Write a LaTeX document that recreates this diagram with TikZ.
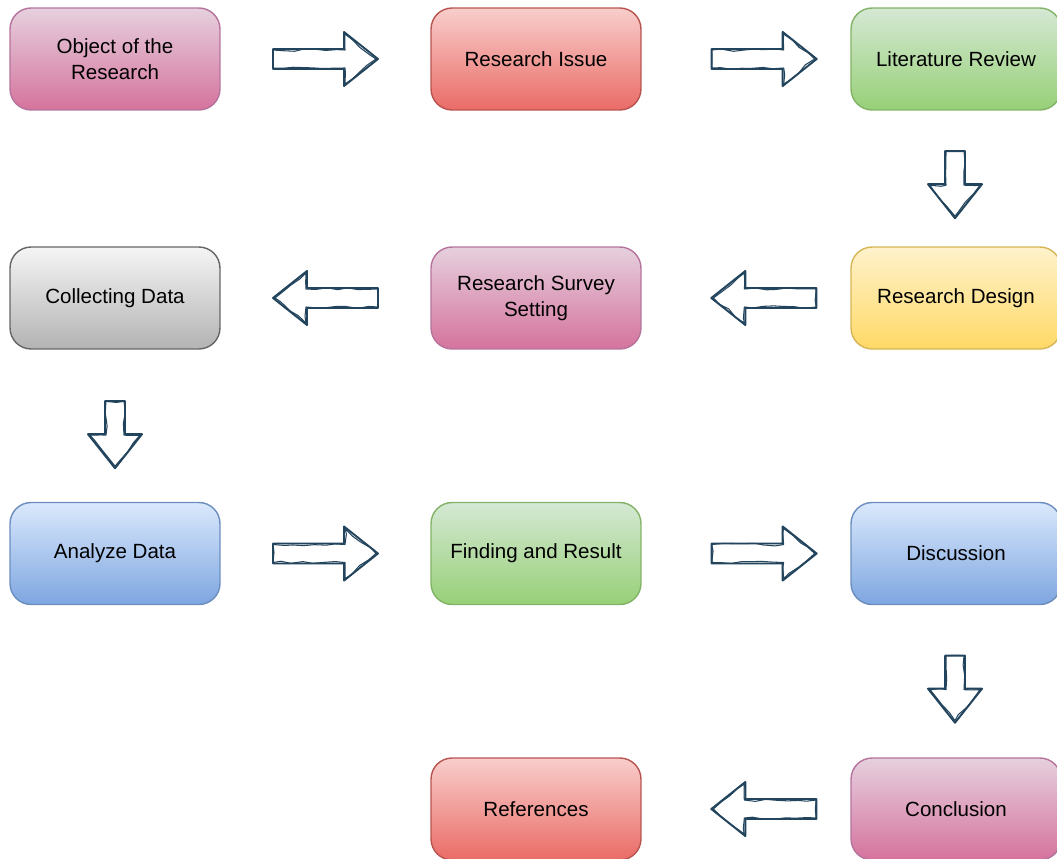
\documentclass[tikz,border=0pt]{standalone}
\usepackage{fontspec}
\setmainfont{Liberation Sans}
\usetikzlibrary{calc,decorations.pathmorphing}
\definecolor{pinkT}{HTML}{E6D0DE}
\definecolor{pinkB}{HTML}{D5739D}
\definecolor{pinkL}{HTML}{B5739D}
\definecolor{redT}{HTML}{F8CECC}
\definecolor{redB}{HTML}{EA6B66}
\definecolor{redL}{HTML}{B85450}
\definecolor{greenT}{HTML}{D5E8D4}
\definecolor{greenB}{HTML}{97D077}
\definecolor{greenL}{HTML}{82B366}
\definecolor{yellowT}{HTML}{FFF2CC}
\definecolor{yellowB}{HTML}{FFD966}
\definecolor{yellowL}{HTML}{D6B656}
\definecolor{grayT}{HTML}{F5F5F5}
\definecolor{grayB}{HTML}{B3B3B3}
\definecolor{grayL}{HTML}{666666}
\definecolor{blueT}{HTML}{DAE8FC}
\definecolor{blueB}{HTML}{7EA6E0}
\definecolor{blueL}{HTML}{6C8EBF}
\definecolor{slate}{HTML}{23445D}
\tikzset{
  stage/.style={draw=#1L,top color=#1T,bottom color=#1B,rounded corners=12,
    line width=0.8pt,minimum width=4.2cm,minimum height=2.04cm,align=center,
    font=\fontsize{11.7}{14.7}\selectfont},
  stage/.default=pink,
  % hand-drawn block arrow, pointing right; #1 = length
  pics/fatarrow/.style={code={
    \pgfmathsetmacro\hl{#1/2}
    \pgfmathsetmacro\hb{#1/2-34}
    \filldraw[fill=white,draw=slate,line width=1.1pt,line join=round]
      (-\hl,-10) -- (\hb,-10) -- (\hb,-27) -- (\hl,0) -- (\hb,27) -- (\hb,10) -- (-\hl,10) -- cycle;
    \draw[slate,line width=0.6pt,line join=round,
      decorate,decoration={random steps,segment length=6,amplitude=0.8}]
      (-\hl,-9) -- (\hb+1,-9) -- (\hb+1,-25) -- (\hl-2,0) -- (\hb+1,25) -- (\hb+1,9) -- (-\hl,9) -- cycle;
  }},
  pics/fatarrow/.default=105,
}
\begin{document}
\begin{tikzpicture}[x=0.02cm,y=-0.02cm]
  \useasboundingbox (0,0) rectangle (1057,858);
  % boxes
  \node[stage=pink] (obj) at (115,59) {Object of the\\Research};
  \node[stage=red] (issue) at (536,59) {Research Issue};
  \node[stage=green] (lit) at (956,59) {Literature Review};
  \node[stage=yellow] (design) at (956,298) {Research Design};
  \node[stage=pink] (survey) at (536,298) {Research Survey\\Setting};
  \node[stage=gray] (collect) at (115,298) {Collecting Data};
  \node[stage=blue] (analyze) at (115,553.5) {Analyze Data};
  \node[stage=green] (find) at (536,553.5) {Finding and Result};
  \node[stage=blue] (disc) at (956,553.5) {Discussion};
  \node[stage=pink] (concl) at (956,809) {Conclusion};
  \node[stage=red] (refs) at (536,809) {References};
  % block arrows
  \pic at ($(obj.east)!0.5!(issue.west)$) {fatarrow};
  \pic at ($(issue.east)+(122.5,0)$) {fatarrow};
  \pic[rotate=-90] at ($(lit.south)+(-1,74)$) {fatarrow=67};
  \pic[rotate=180] at ($(design.west)+(-86.5,0)$) {fatarrow};
  \pic[rotate=180] at ($(survey.west)!0.5!(collect.east)$) {fatarrow};
  \pic[rotate=-90] at ($(collect.south)+(0,85)$) {fatarrow=67};
  \pic at ($(analyze.east)!0.5!(find.west)$) {fatarrow};
  \pic at ($(find.east)+(122.5,0)$) {fatarrow};
  \pic[rotate=-90] at ($(disc.south)+(-1,84)$) {fatarrow=67};
  \pic[rotate=180] at ($(concl.west)+(-86.5,0)$) {fatarrow};
\end{tikzpicture}
\end{document}
